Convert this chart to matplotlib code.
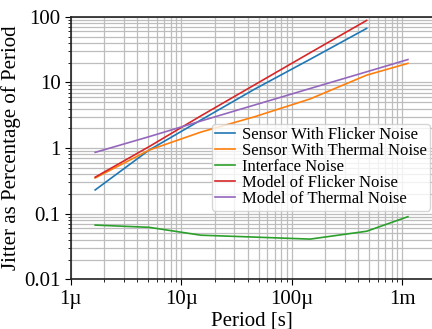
import matplotlib

matplotlib.use("Agg")

import matplotlib.pyplot as plt
from matplotlib.ticker import FixedLocator, FuncFormatter, LogLocator, NullFormatter

plt.rcParams["font.family"] = ["Liberation Serif", "DejaVu Serif"]

# periods in seconds
period = [1.66e-6, 5.1e-6, 15e-6, 46e-6, 146e-6, 474e-6, 1.12e-3]

sensor_flicker = [0.23, 0.93, 2.67, 7.9, 22.5, 66.5]
sensor_thermal = [0.35, 0.93, 1.75, 3.0, 5.6, 12.9, 19.5]
interface_noise = [0.067, 0.062, 0.047, 0.044, 0.041, 0.054, 0.090]
model_flicker = [0.36, 1.05, 3.09, 9.2, 28.3, 88.0]
model_thermal = [0.86, 1.49, 2.58, 4.53, 8.07, 14.5, 22.3]

series = [
    ("Sensor With Flicker Noise", sensor_flicker),
    ("Sensor With Thermal Noise", sensor_thermal),
    ("Interface Noise", interface_noise),
    ("Model of Flicker Noise", model_flicker),
    ("Model of Thermal Noise", model_thermal),
]

x_ticks = [1e-6, 1e-5, 1e-4, 1e-3]
x_tick_labels = ["1µ", "10µ", "100µ", "1m"]
y_ticks = [0.01, 0.1, 1, 10, 100]
y_tick_labels = ["0.01", "0.1", "1", "10", "100"]


def main():
    fig = plt.figure(figsize=(4.32, 3.29), dpi=100)
    ax = fig.add_axes([0.164, 0.151, 0.836, 0.798])

    for label, values in series:
        ax.plot(period[: len(values)], values, label=label, linewidth=1.2)

    ax.set_xscale("log")
    ax.set_yscale("log")
    ax.set_xlim(1e-6, 1.85e-3)
    ax.set_ylim(0.01, 100)

    ax.xaxis.set_major_locator(FixedLocator(x_ticks))
    ax.xaxis.set_major_formatter(
        FuncFormatter(lambda v, pos: dict(zip(x_ticks, x_tick_labels)).get(v, ""))
    )
    ax.yaxis.set_major_locator(FixedLocator(y_ticks))
    ax.yaxis.set_major_formatter(
        FuncFormatter(lambda v, pos: dict(zip(y_ticks, y_tick_labels)).get(v, ""))
    )
    ax.xaxis.set_minor_locator(LogLocator(base=10, subs=range(2, 10), numticks=20))
    ax.yaxis.set_minor_locator(LogLocator(base=10, subs=range(2, 10), numticks=20))
    ax.xaxis.set_minor_formatter(NullFormatter())
    ax.yaxis.set_minor_formatter(NullFormatter())

    ax.grid(True, which="both", color="#bdbdbd", linewidth=0.9)
    ax.tick_params(which="major", labelsize=15, length=4)
    ax.tick_params(which="minor", length=2)
    ax.spines["right"].set_visible(False)
    for side in ("left", "bottom", "top"):
        ax.spines[side].set_linewidth(1.2)
        ax.spines[side].set_color("#222222")

    ax.set_xlabel("Period [s]", fontsize=15, labelpad=2)
    ax.set_ylabel("Jitter as Percentage of Period", fontsize=15, labelpad=2)

    ax.legend(
        loc="lower right",
        bbox_to_anchor=(0.995, 0.262),
        fontsize=12,
        borderaxespad=0.0,
        labelspacing=0.0,
        handlelength=1.2,
        handletextpad=0.4,
        borderpad=0.2,
    )

    fig.savefig("out.png", dpi=100)
    plt.close(fig)


if __name__ == "__main__":
    main()
